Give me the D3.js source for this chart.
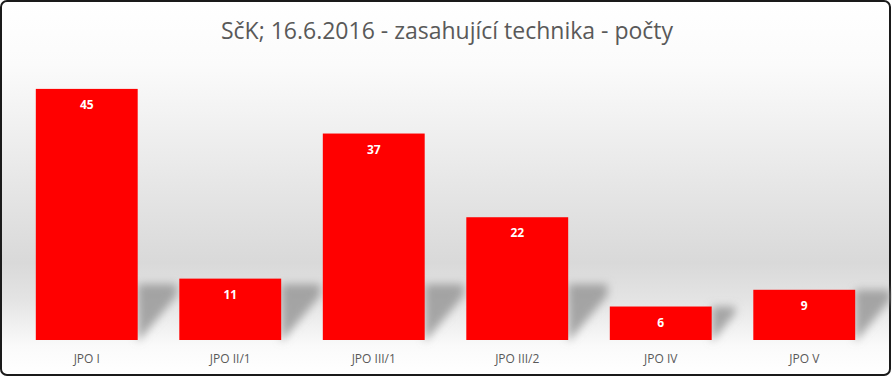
<!DOCTYPE html>
<html>
<head>
<meta charset="utf-8">
<script src="https://cdn.jsdelivr.net/npm/d3@7"></script>
<style>
  body { margin: 0; background: #fff; }
  svg { display: block; }
</style>
</head>
<body>
<script>
// chart data
const categories = ["JPO I", "JPO II/1", "JPO III/1", "JPO III/2", "JPO IV", "JPO V"];
const counts = [45, 11, 37, 22, 6, 9];
const title = "SčK; 16.6.2016 - zasahující technika - počty";

const w = 892;
const h = 377;

const svg = d3.select("body")
            .append("svg")
            .attr("width", w)
            .attr("height", h);

const defs = svg.append("defs");

// wall gradient: white at top, gray in the middle, back to white near floor
const bg = defs.append("linearGradient")
    .attr("id", "bg")
    .attr("x1", 0).attr("y1", 0).attr("x2", 0).attr("y2", 1);
bg.append("stop").attr("offset", "0%").attr("stop-color", "#ffffff");
bg.append("stop").attr("offset", "17%").attr("stop-color", "#fbfbfb");
bg.append("stop").attr("offset", "70%").attr("stop-color", "#d9d9d9");
bg.append("stop").attr("offset", "80%").attr("stop-color", "#e4e4e4");
bg.append("stop").attr("offset", "92%").attr("stop-color", "#fafafa");
bg.append("stop").attr("offset", "100%").attr("stop-color", "#ffffff");

defs.append("filter")
    .attr("id", "blur")
    .attr("x", "-50%").attr("y", "-50%").attr("width", "200%").attr("height", "200%")
  .append("feGaussianBlur")
    .attr("stdDeviation", 4);

// frame
svg.append("rect")
    .attr("x", 1).attr("y", 1)
    .attr("width", w - 3).attr("height", h - 3)
    .attr("rx", 6)
    .attr("fill", "url(#bg)")
    .attr("stroke", "#1a1a1a")
    .attr("stroke-width", 2);

const xScale = d3.scaleBand()
                .domain(categories)
                .range([15, 876])
                .paddingInner(0.29)
                .paddingOuter(0.145);

const yScale = d3.scaleLinear()
                .domain([0, 50])
                .range([340, 61]);

// bar shadows on the floor
svg.append("g")
    .attr("filter", "url(#blur)")
    .selectAll("path")
    .data(counts)
    .join("path")
    .attr("d", (d, i) => {
        const x1 = xScale(categories[i]) + xScale.bandwidth();
        const y0 = yScale(0);
        const sh = Math.min(y0 - yScale(d), 56);
        return "M" + x1 + "," + (y0 - sh) +
               "L" + (x1 + sh * 0.7) + "," + (y0 - sh) +
               "L" + (x1 + sh * 0.7) + "," + (y0 - sh * 0.8) +
               "L" + x1 + "," + (y0 + 2) + "Z";
    })
    .attr("fill", "#939393")
    .attr("opacity", 0.8);

// bars
svg.append("g")
    .selectAll("rect")
    .data(counts)
    .join("rect")
    .attr("x", (d, i) => xScale(categories[i]))
    .attr("y", (d) => yScale(d))
    .attr("width", xScale.bandwidth())
    .attr("height", (d) => yScale(0) - yScale(d))
    .attr("fill", "#ff0000");

// value labels
svg.append("g")
    .selectAll("text")
    .data(counts)
    .join("text")
    .text((d) => d)
    .attr("text-anchor", "middle")
    .attr("x", (d, i) => xScale(categories[i]) + xScale.bandwidth() / 2)
    .attr("y", (d) => yScale(d) + 20)
    .attr("font-family", "'Open Sans', sans-serif")
    .attr("font-weight", "bold")
    .attr("font-size", "12px")
    .attr("fill", "white");

// category axis
const xAxis = d3.axisBottom(xScale).tickSize(0).tickPadding(14);
svg.append("g")
    .attr("transform", "translate(0," + yScale(0) + ")")
    .call(xAxis)
    .call(g => g.select(".domain").remove())
    .call(g => g.selectAll("text")
        .attr("font-family", "'Open Sans', sans-serif")
        .attr("font-size", "12px")
        .attr("fill", "#595959"));

// title
svg.append("text")
    .text(title)
    .attr("x", 447)
    .attr("y", 39)
    .attr("text-anchor", "middle")
    .attr("font-family", "'Open Sans', sans-serif")
    .attr("font-size", "23px")
    .attr("fill", "#595959");
</script>
</body>
</html>
